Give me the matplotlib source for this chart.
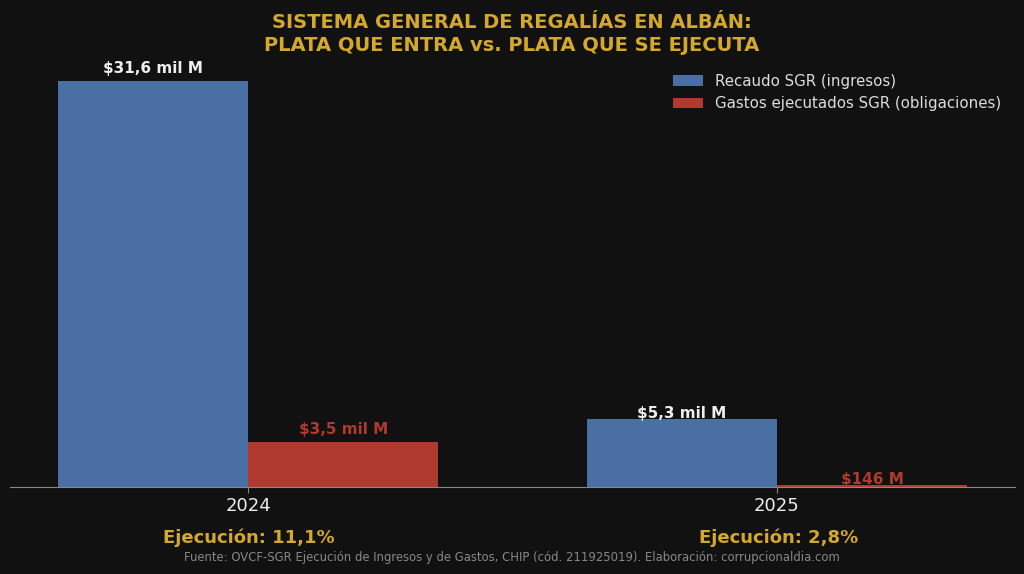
import numpy as np
import matplotlib
matplotlib.use("Agg")
import matplotlib.pyplot as plt

plt.rcParams['font.family'] = ['DejaVu Sans']

years = ["2024", "2025"]
recaudo = [31.6, 5.3]          # miles de millones
gastos = [3.5, 0.146]
recaudo_lbl = ["$31,6 mil M", "$5,3 mil M"]
gastos_lbl = ["$3,5 mil M", "$146 M"]
ejecucion = ["Ejecución: 11,1%", "Ejecución: 2,8%"]

BG = "#111111"
BLUE = "#4a6fa5"
RED = "#b03a2e"
GOLD = "#d4a82a"

fig = plt.figure(figsize=(10.24, 5.74), dpi=100, facecolor=BG)
ax = fig.add_axes([10 / 1024, 1 - 487 / 574, 1005 / 1024, (487 - 66) / 574])
ax.set_facecolor(BG)

x = np.arange(len(years))
w = 0.36
b1 = ax.bar(x - w / 2, recaudo, w, color=BLUE, label="Recaudo SGR (ingresos)")
b2 = ax.bar(x + w / 2, gastos, w, color=RED, label="Gastos ejecutados SGR (obligaciones)")

# etiquetas: separacion proporcional al maximo de cada año
for i in range(len(years)):
    off = 0.02 * max(recaudo[i], gastos[i])
    r1, r2 = b1[i], b2[i]
    ax.text(r1.get_x() + r1.get_width() / 2, r1.get_height() + off, recaudo_lbl[i],
            ha="center", va="baseline", color="#eeeeee", fontsize=11, fontweight="bold")
    ax.text(r2.get_x() + r2.get_width() / 2, r2.get_height() + off, gastos_lbl[i],
            ha="center", va="baseline", color=RED, fontsize=11, fontweight="bold")

ax.set_xlim(-0.45, 1.45)
ax.set_ylim(0, 32.8)
ax.set_xticks(x)
ax.set_xticklabels(years, color="#eeeeee", fontsize=13)
ax.set_yticks([])
ax.tick_params(axis="x", colors="#888888", length=4, labelcolor="#eeeeee")
for s in ["top", "right", "left"]:
    ax.spines[s].set_visible(False)
ax.spines["bottom"].set_color("#888888")

leg = ax.legend(loc="upper right", bbox_to_anchor=(1, 1.014), frameon=False, fontsize=10.85,
                labelcolor="#dddddd", handlelength=2.0, borderaxespad=0.5)

for xi, t in zip(x, ejecucion):
    fig.text((10 + (xi + 0.45) * 530) / 1024, 1 - 538 / 574, t, ha="center", va="center",
             color=GOLD, fontsize=13, fontweight="bold")

fig.text(0.5, 1 - 34 / 574,
         "SISTEMA GENERAL DE REGALÍAS EN ALBÁN:\nPLATA QUE ENTRA vs. PLATA QUE SE EJECUTA",
         ha="center", va="center", color=GOLD, fontsize=14, fontweight="bold", linespacing=1.25)
fig.text(0.5, 1 - 557 / 574,
         "Fuente: OVCF-SGR Ejecución de Ingresos y de Gastos, CHIP (cód. 211925019). Elaboración: corrupcionaldia.com",
         ha="center", va="center", color="#888888", fontsize=8.4)

fig.savefig("out.png", dpi=100, facecolor=BG)
